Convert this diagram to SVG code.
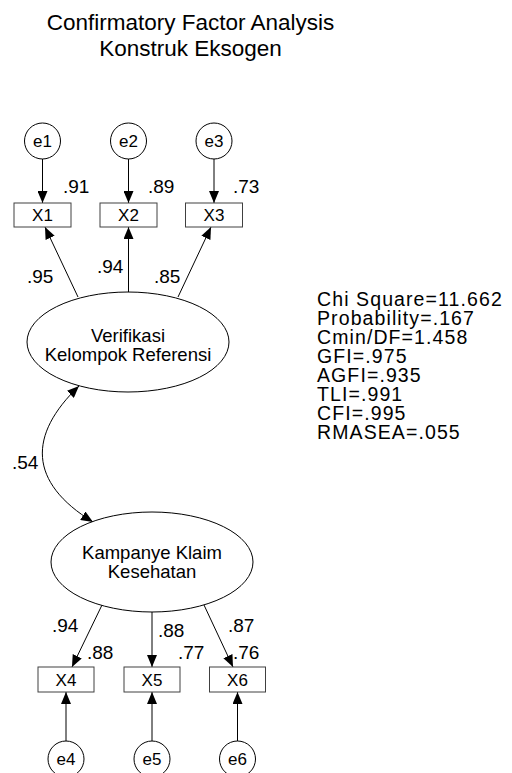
<svg xmlns="http://www.w3.org/2000/svg" width="512" height="773" viewBox="0 0 512 773">
<defs>
<marker id="ah" viewBox="0 0 12 10" refX="12" refY="5" markerWidth="12" markerHeight="10" markerUnits="userSpaceOnUse" orient="auto-start-reverse">
<path d="M0,0 L12,5 L0,10 Z" fill="#000"/>
</marker>
</defs>
<style>
text{font-family:"Liberation Sans",Arial,sans-serif;fill:#000}
.t{font-size:22.5px;text-anchor:middle}
.lb{font-size:19px}
.bx{font-size:17px;text-anchor:middle}
.el{font-size:18.5px;text-anchor:middle}
.er{font-size:17px;text-anchor:middle}
.fit{font-size:19.5px;letter-spacing:1.1px}
rect{fill:#fff;stroke:#404040;stroke-width:1}
ellipse,circle{fill:#fff;stroke:#000;stroke-width:1}
.c line,.c path{stroke:#000;stroke-width:1;fill:none;marker-end:url(#ah)}
</style>
<rect x="0" y="0" width="512" height="773" style="fill:#fff;stroke:none"/>
<g id="title">
<text class="t" x="190.5" y="30">Confirmatory Factor Analysis</text>
<text class="t" x="190.5" y="56">Konstruk Eksogen</text>
</g>
<g class="c" id="connectors">
<line x1="42.5" y1="159" x2="42.5" y2="203"/>
<line x1="128.5" y1="159" x2="128.5" y2="203"/>
<line x1="214" y1="159" x2="214" y2="203"/>
<line x1="78" y1="297" x2="45" y2="227"/>
<line x1="128.5" y1="292" x2="128.5" y2="227"/>
<line x1="178" y1="297" x2="211" y2="227"/>
<path d="M93,522 C28,482 28,435 79,386" style="marker-start:url(#ah)"/>
<line x1="102" y1="605" x2="72" y2="667"/>
<line x1="152" y1="612" x2="152" y2="667"/>
<line x1="204" y1="605" x2="233" y2="667"/>
<line x1="66" y1="741" x2="66" y2="692"/>
<line x1="152" y1="741" x2="152" y2="692"/>
<line x1="237.5" y1="741" x2="237.5" y2="692"/>
</g>
<g id="e1"><circle cx="42.5" cy="141" r="18"/><text class="er" x="42.5" y="147">e1</text></g>
<g id="e2"><circle cx="128.5" cy="141" r="18"/><text class="er" x="128.5" y="147">e2</text></g>
<g id="e3"><circle cx="214" cy="141" r="18"/><text class="er" x="214" y="147">e3</text></g>
<g id="X1"><rect x="14" y="203" width="57" height="24"/><text class="bx" x="42.5" y="221">X1</text></g>
<g id="X2"><rect x="100" y="203" width="57" height="24"/><text class="bx" x="128.5" y="221">X2</text></g>
<g id="X3"><rect x="185.5" y="203" width="57" height="24"/><text class="bx" x="214" y="221">X3</text></g>
<g id="F1"><ellipse cx="128" cy="342" rx="101" ry="50"/>
<text class="el" x="128" y="342">Verifikasi</text>
<text class="el" x="128" y="361">Kelompok Referensi</text></g>
<g id="F2"><ellipse cx="152" cy="562" rx="101" ry="50"/>
<text class="el" x="152" y="559">Kampanye Klaim</text>
<text class="el" x="152" y="578">Kesehatan</text></g>
<g id="X4"><rect x="38" y="667" width="56" height="25"/><text class="bx" x="66" y="686">X4</text></g>
<g id="X5"><rect x="124" y="667" width="56" height="25"/><text class="bx" x="152" y="686">X5</text></g>
<g id="X6"><rect x="209.5" y="667" width="56" height="25"/><text class="bx" x="237.5" y="686">X6</text></g>
<g id="e4"><circle cx="66" cy="759" r="18"/><text class="er" x="66" y="765">e4</text></g>
<g id="e5"><circle cx="152" cy="759" r="18"/><text class="er" x="152" y="765">e5</text></g>
<g id="e6"><circle cx="237.5" cy="759" r="18"/><text class="er" x="237.5" y="765">e6</text></g>
<g id="labels">
<text class="lb" x="63" y="193">.91</text>
<text class="lb" x="148" y="193">.89</text>
<text class="lb" x="233" y="193">.73</text>
<text class="lb" x="27" y="283">.95</text>
<text class="lb" x="97" y="273">.94</text>
<text class="lb" x="154" y="283">.85</text>
<text class="lb" x="12" y="469">.54</text>
<text class="lb" x="52" y="632">.94</text>
<text class="lb" x="87" y="659">.88</text>
<text class="lb" x="158" y="637">.88</text>
<text class="lb" x="178" y="659">.77</text>
<text class="lb" x="228" y="632">.87</text>
<text class="lb" x="233" y="659">.76</text>
</g>
<g id="fit">
<text class="fit" x="317" y="306">Chi Square=11.662</text>
<text class="fit" x="317" y="325">Probability=.167</text>
<text class="fit" x="317" y="344">Cmin/DF=1.458</text>
<text class="fit" x="317" y="363">GFI=.975</text>
<text class="fit" x="317" y="382">AGFI=.935</text>
<text class="fit" x="317" y="401">TLI=.991</text>
<text class="fit" x="317" y="420">CFI=.995</text>
<text class="fit" x="317" y="439">RMASEA=.055</text>
</g>
</svg>
